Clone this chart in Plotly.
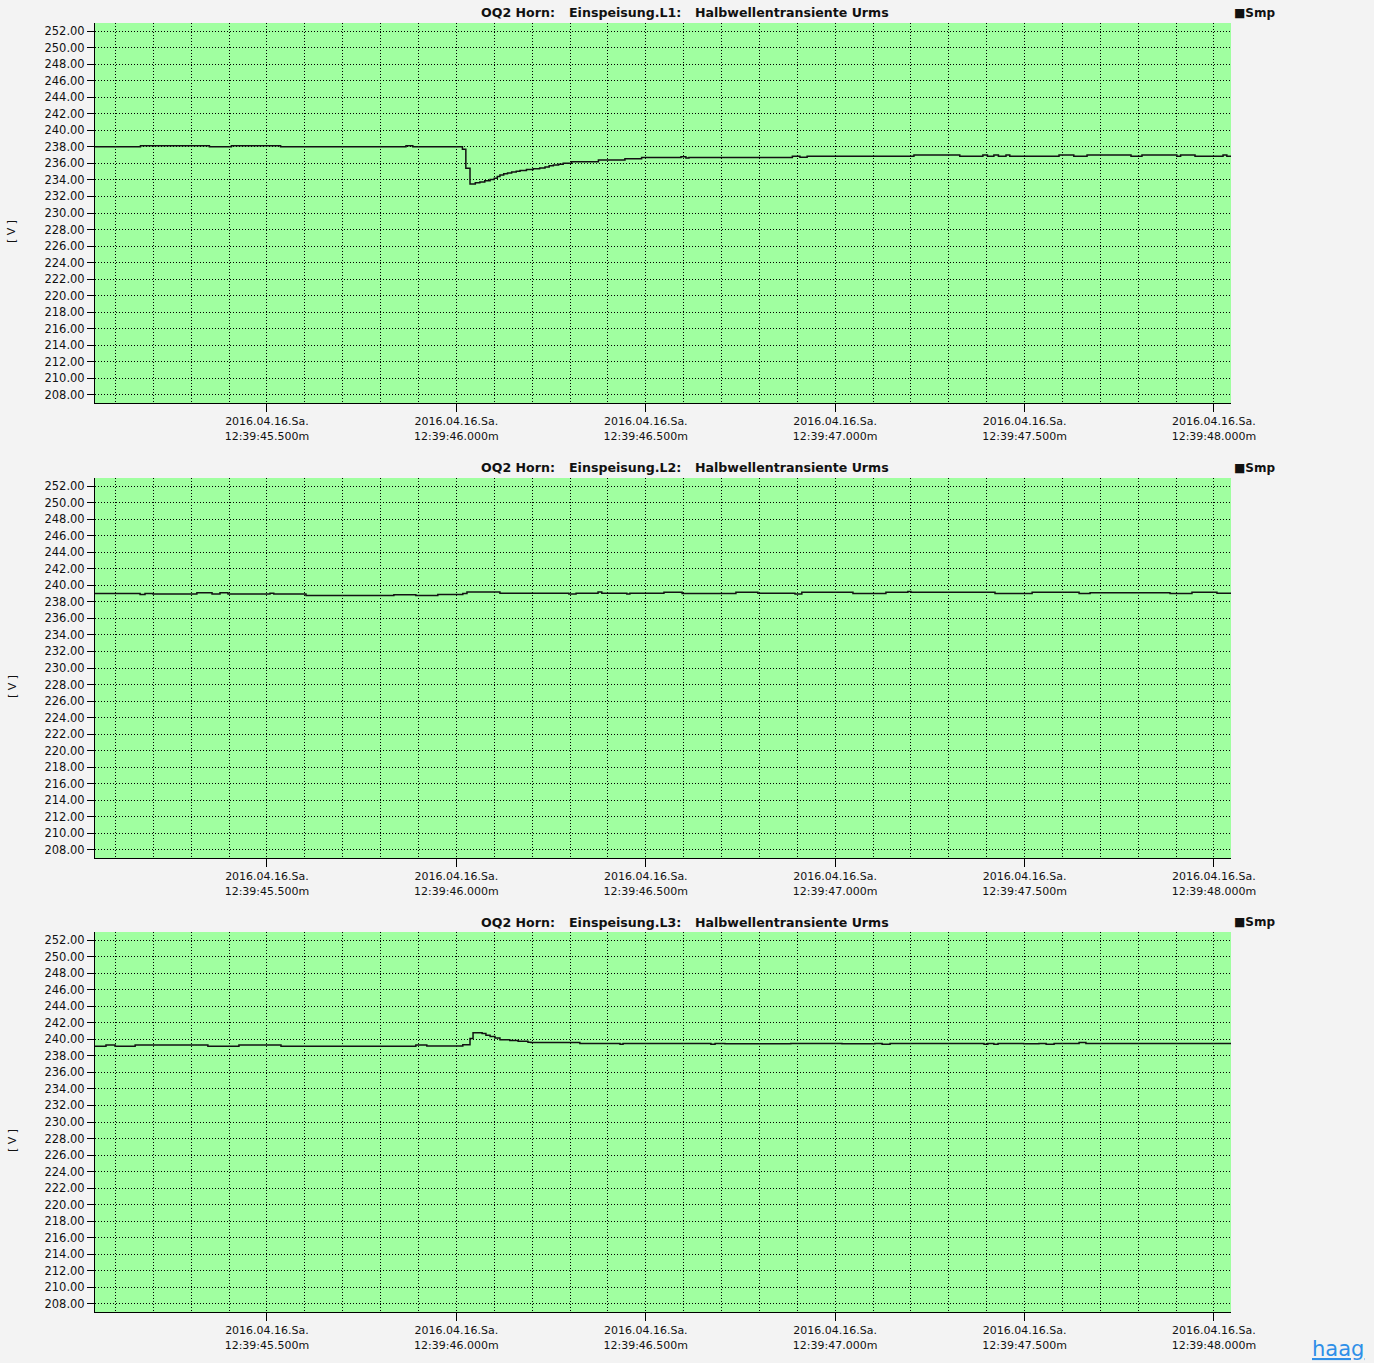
import plotly.graph_objects as go

# ---------------- data (seconds after 12:39:45.000, voltage in V) ----------------
t_L1 = [0.046, 0.166, 0.348, 0.406, 0.536, 0.867, 0.885, 1.016, 1.025, 1.036,
        1.050, 1.062, 1.075, 1.089, 1.100, 1.108, 1.115, 1.125, 1.135, 1.146,
        1.158, 1.168, 1.185, 1.203, 1.220, 1.234, 1.245, 1.256, 1.270, 1.282,
        1.304, 1.375, 1.445, 1.489, 1.593, 1.606, 1.614, 1.887, 1.907, 1.926,
        2.208, 2.329, 2.390, 2.402, 2.419, 2.431, 2.451, 2.461, 2.591, 2.630,
        2.665, 2.781, 2.810, 2.902, 2.912, 2.950, 3.024, 3.034, 3.045]
v_L1 = [238.0, 238.12, 238.0, 238.12, 238.0, 238.12, 238.0, 237.7, 235.4, 233.5,
        233.65, 233.75, 233.9, 234.05, 234.2, 234.4, 234.6, 234.75, 234.85, 234.95,
        235.05, 235.15, 235.25, 235.35, 235.45, 235.55, 235.7, 235.8, 235.9, 236.0,
        236.2, 236.4, 236.55, 236.7, 236.8, 236.65, 236.7, 236.85, 236.75, 236.85,
        237.0, 236.85, 237.0, 236.85, 237.0, 236.85, 237.0, 236.85, 237.0, 236.85,
        237.0, 236.85, 237.0, 236.85, 237.0, 236.85, 237.0, 236.85, 236.85]

t_L2 = [0.046, 0.165, 0.178, 0.199, 0.315, 0.355, 0.376, 0.397, 0.508, 0.518,
        0.603, 0.835, 0.893, 0.951, 1.017, 1.028, 1.115, 1.297, 1.316, 1.374,
        1.384, 1.450, 1.458, 1.548, 1.596, 1.738, 1.796, 1.894, 1.912, 2.047,
        2.134, 2.192, 2.200, 2.422, 2.520, 2.644, 2.673, 2.884, 2.942, 3.008,
        3.045]
v_L2 = [239.0, 238.9, 239.0, 238.95, 239.1, 238.95, 239.1, 238.95, 239.05, 238.95,
        238.75, 238.85, 238.75, 238.9, 239.0, 239.2, 239.05, 238.95, 239.05, 239.2,
        239.05, 238.95, 239.05, 239.15, 239.0, 239.15, 239.05, 238.95, 239.15, 239.0,
        239.15, 239.25, 239.15, 239.0, 239.15, 239.0, 239.1, 239.0, 239.15, 239.05,
        239.05]

t_L3 = [0.046, 0.075, 0.099, 0.152, 0.344, 0.426, 0.537, 0.893, 0.922, 1.017,
        1.036, 1.044, 1.068, 1.078, 1.089, 1.102, 1.115, 1.141, 1.163, 1.189,
        1.197, 1.326, 1.432, 1.440, 1.672, 1.683, 1.709, 1.883, 2.018, 2.105,
        2.124, 2.145, 2.393, 2.403, 2.419, 2.430, 2.498, 2.538, 2.557, 2.578,
        2.644, 2.662, 3.045]
v_L3 = [239.15, 239.3, 239.15, 239.3, 239.15, 239.3, 239.15, 239.3, 239.2, 239.35,
        240.1, 240.8, 240.7, 240.5, 240.35, 240.15, 239.95, 239.85, 239.75, 239.65,
        239.6, 239.5, 239.4, 239.5, 239.4, 239.5, 239.45, 239.5, 239.45, 239.5,
        239.4, 239.5, 239.4, 239.5, 239.4, 239.5, 239.45, 239.5, 239.4, 239.5,
        239.6, 239.5, 239.5]

titles = ["Einspeisung.L1:", "Einspeisung.L2:", "Einspeisung.L3:"]
x_tickvals = [0.5, 1.0, 1.5, 2.0, 2.5, 3.0]
x_ticktext = ["2016.04.16.Sa.<br>12:39:45.500m", "2016.04.16.Sa.<br>12:39:46.000m",
              "2016.04.16.Sa.<br>12:39:46.500m", "2016.04.16.Sa.<br>12:39:47.000m",
              "2016.04.16.Sa.<br>12:39:47.500m", "2016.04.16.Sa.<br>12:39:48.000m"]
y_tickvals = list(range(208, 254, 2))
y_ticktext = ["%.2f" % v for v in y_tickvals]

# ---------------- figure ----------------
W, H = 1374, 1363
ML, MR, MT, MB = 95, 143, 23, 51
plot_h = H - MT - MB
panels_px = [(23, 403), (478, 858), (932, 1312)]
domains = [[1 - (b - MT) / plot_h, 1 - (t - MT) / plot_h] for t, b in panels_px]

BG = "#f3f3f3"
GREEN = "#a0ffa0"
FONT = "DejaVu Sans"
DOT = "1px,2px"

fig = go.Figure()
series = [(t_L1, v_L1), (t_L2, v_L2), (t_L3, v_L3)]
annotations = []
for i, ((tt, vv), title) in enumerate(zip(series, titles)):
    n = "" if i == 0 else str(i + 1)
    fig.add_trace(go.Scatter(x=tt, y=vv, mode="lines", line=dict(color="#111111", width=1.5, shape="hv"),
                             xaxis="x" + n, yaxis="y" + n, showlegend=False, hoverinfo="skip"))
    fig.layout["xaxis" + n] = dict(
        domain=[0, 1], anchor="y" + n, range=[0.046, 3.045],
        showline=True, linecolor="black", linewidth=1, mirror=False, zeroline=False,
        ticks="outside", ticklen=8, tickcolor="black", tickwidth=1,
        tickvals=x_tickvals, ticktext=x_ticktext,
        tickfont=dict(family=FONT, size=11, color="#111111"),
        showgrid=True, gridcolor="black", gridwidth=1, griddash=DOT,
        minor=dict(tick0=0, dtick=0.1, showgrid=True, gridcolor="black", gridwidth=1, griddash=DOT, ticks=""),
    )
    fig.layout["yaxis" + n] = dict(
        domain=domains[i], anchor="x" + n, range=[207.03, 252.97],
        showline=True, linecolor="black", linewidth=1, mirror=False, zeroline=False,
        ticks="outside", ticklen=7, tickcolor="black", tickwidth=1,
        tickvals=y_tickvals, ticktext=y_ticktext,
        tickfont=dict(family=FONT, size=11.5, color="#111111"),
        showgrid=True, gridcolor="black", gridwidth=1, griddash=DOT,
    )
    xd = "x" + n + " domain"
    yd = "y" + n + " domain"
    tfont = dict(family=FONT, size=12.6, color="#111111")
    for txt, px in [("<b>OQ2 Horn:</b>", 479), ("<b>" + title + "</b>", 567),
                    ("<b>Halbwellentransiente Urms</b>", 693)]:
        annotations.append(dict(text=txt, xref=xd, yref=yd, x=(px - ML) / (W - ML - MR), y=1 + 10 / 380,
                                xanchor="left", yanchor="middle", showarrow=False, font=tfont))
    annotations.append(dict(text="<b>■Smp</b>", xref=xd, yref=yd, x=(1232 - ML) / (W - ML - MR), y=1 + 10 / 380,
                            xanchor="left", yanchor="middle", showarrow=False,
                            font=dict(family=FONT, size=12, color="#111111")))
    annotations.append(dict(text="[ V ]", xref="paper", yref=yd, x=(12 - ML) / (W - ML - MR), y=0.45,
                            xanchor="center", yanchor="middle", textangle=-90, showarrow=False,
                            font=dict(family=FONT, size=11, color="#111111")))

annotations.append(dict(text="<u>haag</u>", xref="paper", yref="paper",
                        x=(1338 - ML) / (W - ML - MR), y=-(1349 - H + MB) / plot_h,
                        xanchor="center", yanchor="middle", showarrow=False,
                        font=dict(family=FONT, size=21, color="#2f8fe8")))

fig.update_layout(width=W, height=H, margin=dict(l=ML, r=MR, t=MT, b=MB),
                  paper_bgcolor=BG, plot_bgcolor=GREEN, annotations=annotations,
                  font=dict(family=FONT))

fig.write_html("out.html", config={"displayModeBar": False},
               post_script="document.body.style.margin='0';document.body.style.overflow='hidden';")
